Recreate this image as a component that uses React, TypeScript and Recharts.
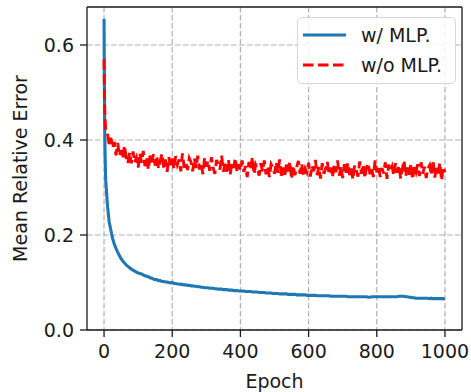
import React from "react";
import { LineChart, Line, XAxis, YAxis, CartesianGrid, ReferenceLine } from "recharts";

// Epochs sampled from the curves (dense at the very start, then every 5)
const epochs = [
  0, 1, 2, 3, 4,
  5, 10, 15, 20, 25, 30, 35, 40, 45, 50,
  55, 60, 65, 70, 75, 80, 85, 90, 95, 100,
  105, 110, 115, 120, 125, 130, 135, 140, 145, 150,
  155, 160, 165, 170, 175, 180, 185, 190, 195, 200,
  205, 210, 215, 220, 225, 230, 235, 240, 245, 250,
  255, 260, 265, 270, 275, 280, 285, 290, 295, 300,
  305, 310, 315, 320, 325, 330, 335, 340, 345, 350,
  355, 360, 365, 370, 375, 380, 385, 390, 395, 400,
  405, 410, 415, 420, 425, 430, 435, 440, 445, 450,
  455, 460, 465, 470, 475, 480, 485, 490, 495, 500,
  505, 510, 515, 520, 525, 530, 535, 540, 545, 550,
  555, 560, 565, 570, 575, 580, 585, 590, 595, 600,
  605, 610, 615, 620, 625, 630, 635, 640, 645, 650,
  655, 660, 665, 670, 675, 680, 685, 690, 695, 700,
  705, 710, 715, 720, 725, 730, 735, 740, 745, 750,
  755, 760, 765, 770, 775, 780, 785, 790, 795, 800,
  805, 810, 815, 820, 825, 830, 835, 840, 845, 850,
  855, 860, 865, 870, 875, 880, 885, 890, 895, 900,
  905, 910, 915, 920, 925, 930, 935, 940, 945, 950,
  955, 960, 965, 970, 975, 980, 985, 990, 995, 1000,
];

const withMlp = [
  0.655, 0.52, 0.42, 0.37, 0.34,
  0.315, 0.262, 0.228, 0.21, 0.193, 0.181, 0.172, 0.164, 0.157, 0.15,
  0.145, 0.141, 0.137, 0.134, 0.131, 0.128, 0.126, 0.124, 0.122, 0.12,
  0.119, 0.118, 0.116, 0.114, 0.113, 0.112, 0.11, 0.109, 0.107, 0.106,
  0.106, 0.104, 0.104, 0.102, 0.102, 0.101, 0.101, 0.1, 0.099, 0.1,
  0.098, 0.098, 0.097, 0.097, 0.096, 0.096, 0.095, 0.095, 0.094, 0.094,
  0.093, 0.093, 0.092, 0.092, 0.091, 0.091, 0.09, 0.09, 0.089, 0.089,
  0.089, 0.088, 0.088, 0.088, 0.087, 0.087, 0.086, 0.086, 0.086, 0.085,
  0.085, 0.085, 0.084, 0.084, 0.084, 0.083, 0.083, 0.083, 0.082, 0.082,
  0.082, 0.082, 0.081, 0.081, 0.081, 0.081, 0.08, 0.08, 0.08, 0.08,
  0.079, 0.079, 0.079, 0.079, 0.078, 0.078, 0.078, 0.078, 0.077, 0.077,
  0.077, 0.077, 0.076, 0.076, 0.076, 0.076, 0.076, 0.075, 0.075, 0.075,
  0.075, 0.075, 0.074, 0.074, 0.074, 0.074, 0.074, 0.074, 0.073, 0.073,
  0.073, 0.073, 0.073, 0.073, 0.072, 0.072, 0.072, 0.072, 0.072, 0.072,
  0.072, 0.072, 0.071, 0.071, 0.071, 0.071, 0.071, 0.071, 0.071, 0.071,
  0.071, 0.071, 0.07, 0.07, 0.07, 0.07, 0.07, 0.07, 0.07, 0.07,
  0.07, 0.07, 0.07, 0.07, 0.069, 0.069, 0.07, 0.07, 0.07, 0.07,
  0.07, 0.07, 0.07, 0.07, 0.07, 0.07, 0.07, 0.07, 0.07, 0.07,
  0.07, 0.07, 0.071, 0.071, 0.071, 0.071, 0.07, 0.07, 0.069, 0.069,
  0.068, 0.068, 0.067, 0.067, 0.067, 0.067, 0.067, 0.067, 0.067, 0.067,
  0.066, 0.067, 0.066, 0.066, 0.066, 0.066, 0.066, 0.066, 0.066, 0.065,
];

const withoutMlp = [
  0.57, 0.5, 0.465, 0.445, 0.43,
  0.42, 0.414, 0.39, 0.405, 0.383, 0.396, 0.368, 0.394, 0.367, 0.379,
  0.361, 0.388, 0.362, 0.351, 0.374, 0.351, 0.376, 0.353, 0.363, 0.342,
  0.372, 0.352, 0.377, 0.345, 0.362, 0.338, 0.367, 0.353, 0.37, 0.346,
  0.363, 0.34, 0.357, 0.371, 0.342, 0.359, 0.333, 0.364, 0.347, 0.361,
  0.339, 0.366, 0.348, 0.359, 0.334, 0.372, 0.342, 0.353, 0.337, 0.362,
  0.354, 0.334, 0.361, 0.341, 0.367, 0.338, 0.352, 0.328, 0.363, 0.344,
  0.356, 0.335, 0.364, 0.341, 0.329, 0.358, 0.349, 0.338, 0.367, 0.333,
  0.35, 0.333, 0.358, 0.327, 0.352, 0.341, 0.362, 0.332, 0.349, 0.336,
  0.357, 0.333, 0.345, 0.322, 0.354, 0.337, 0.364, 0.328, 0.348, 0.34,
  0.325, 0.351, 0.334, 0.357, 0.328, 0.345, 0.322, 0.349, 0.342, 0.329,
  0.353, 0.331, 0.359, 0.325, 0.342, 0.322, 0.348, 0.334, 0.354, 0.318,
  0.346, 0.326, 0.343, 0.356, 0.329, 0.35, 0.323, 0.34, 0.332, 0.352,
  0.323, 0.346, 0.334, 0.358, 0.326, 0.343, 0.319, 0.351, 0.329, 0.34,
  0.354, 0.328, 0.342, 0.322, 0.348, 0.332, 0.357, 0.325, 0.345, 0.32,
  0.349, 0.331, 0.352, 0.326, 0.34, 0.317, 0.346, 0.337, 0.323, 0.355,
  0.329, 0.348, 0.32, 0.343, 0.351, 0.328, 0.34, 0.322, 0.357, 0.332,
  0.345, 0.322, 0.341, 0.33, 0.353, 0.318, 0.348, 0.334, 0.344, 0.325,
  0.351, 0.331, 0.347, 0.319, 0.339, 0.357, 0.324, 0.342, 0.327, 0.35,
  0.317, 0.343, 0.332, 0.349, 0.324, 0.353, 0.329, 0.344, 0.32, 0.34,
  0.347, 0.326, 0.357, 0.321, 0.341, 0.33, 0.352, 0.315, 0.344, 0.332,
];

const xTicks = [0, 200, 400, 600, 800, 1000];
const yTicks = [0, 0.2, 0.4, 0.6];
const xDomain = [-50, 1050];
const yDomain = [0, 0.68];

const seriesInfo = [
  { key: "wMlp", name: "w/ MLP.", color: "#1f77b4", dash: undefined as string | undefined },
  { key: "woMlp", name: "w/o MLP.", color: "#ff0000", dash: "10.5 4.5" },
];

const data = epochs.map((e, i) => ({ epoch: e, wMlp: withMlp[i], woMlp: withoutMlp[i] }));

const FONT = "'DejaVu Sans', sans-serif";
const FS = 19;
const INK = "#1a1a1a";

const LegendBox = () => (
  <div
    style={{
      position: "absolute",
      left: 297,
      top: 17,
      border: "1.5px solid #d6d6d6",
      borderRadius: 5,
      background: "rgba(255,255,255,0.85)",
      padding: "2px 0 3px 5px",
      width: 152,
      fontFamily: FONT,
      fontSize: FS,
      color: INK,
    }}
  >
    {seriesInfo.map((s) => (
      <div key={s.key} style={{ display: "flex", alignItems: "center", height: 30 }}>
        <svg width={43} height={10} style={{ marginRight: 15 }}>
          <line x1={0} y1={5} x2={43} y2={5} stroke={s.color} strokeWidth={2.9} strokeDasharray={s.dash} />
        </svg>
        <span style={{ lineHeight: "30px" }}>{s.name}</span>
      </div>
    ))}
  </div>
);

export default function App() {
  const tickStyle = { fontFamily: FONT, fontSize: FS, fill: INK };
  return (
    <div style={{ position: "absolute", left: 0, top: 0, width: 471, height: 392, background: "#fff" }}>
      <LineChart width={471} height={392} data={data} margin={{ top: 7, right: 9, bottom: 0, left: 0 }}>
        <CartesianGrid stroke="#b0b0b0" strokeWidth={1.2} strokeDasharray="5.6 2.4" horizontalValues={yTicks} verticalValues={xTicks} />
        <XAxis
          dataKey="epoch"
          type="number"
          domain={xDomain}
          ticks={xTicks}
          height={62}
          tickSize={7}
          tickMargin={8}
          tick={tickStyle}
          axisLine={{ stroke: INK, strokeWidth: 1.3 }}
          tickLine={{ stroke: INK, strokeWidth: 1.3 }}
          label={{ value: "Epoch", position: "insideBottom", offset: 4, style: { fontFamily: FONT, fontSize: FS, fill: INK } }}
        />
        <YAxis
          type="number"
          domain={yDomain}
          ticks={yTicks}
          width={87}
          tickSize={7}
          tickMargin={6}
          tick={tickStyle}
          tickFormatter={(v: number) => v.toFixed(1)}
          axisLine={{ stroke: INK, strokeWidth: 1.3 }}
          tickLine={{ stroke: INK, strokeWidth: 1.3 }}
          label={{
            value: "Mean Relative Error",
            angle: -90,
            position: "insideLeft",
            offset: 20,
            style: { fontFamily: FONT, fontSize: FS, fill: INK, textAnchor: "middle" },
          }}
        />
        {seriesInfo.map((s) => (
          <Line
            key={s.key}
            type="linear"
            dataKey={s.key}
            name={s.name}
            stroke={s.color}
            strokeWidth={s.dash ? 2.9 : 3.1}
            strokeDasharray={s.dash}
            dot={false}
            activeDot={false}
            isAnimationActive={false}
          />
        ))}
        {/* top and right spines */}
        <ReferenceLine y={yDomain[1]} stroke={INK} strokeWidth={1.3} />
        <ReferenceLine x={xDomain[1]} stroke={INK} strokeWidth={1.3} />
      </LineChart>
      <LegendBox />
    </div>
  );
}
